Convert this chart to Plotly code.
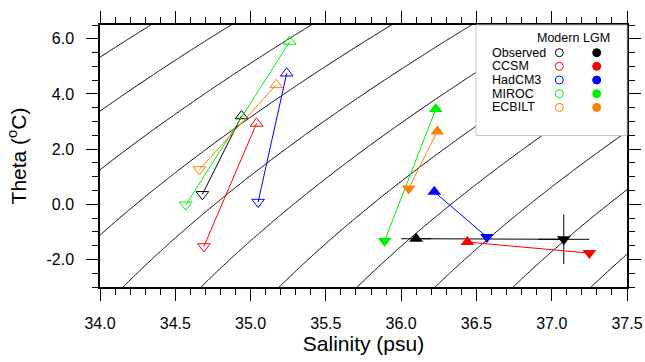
import numpy as np
import plotly.graph_objects as go

# ---------------- data ----------------
models = ["Observed", "CCSM", "HadCM3", "MIROC", "ECBILT"]
colors = ["#000000", "#ff0000", "#0000ff", "#00f000", "#ff8000"]

# Modern: [up-triangle site, down-triangle site]
modern_S = [[34.94, 34.68], [35.04, 34.69], [35.24, 35.05], [35.26, 34.57], [35.17, 34.66]]
modern_T = [[3.20, 0.36], [2.93, -1.53], [4.75, 0.08], [5.90, -0.02], [4.33, 1.26]]
# LGM
lgm_S = [[36.10, 37.08], [36.44, 37.25], [36.22, 36.57], [36.23, 35.89], [36.24, 36.05]]
lgm_T = [[-1.25, -1.27], [-1.37, -1.77], [0.45, -1.19], [3.45, -1.33], [2.64, 0.57]]
# observed LGM error bars
obs_err_S = [0.10, 0.17]
obs_err_T = [0.0, 0.9]

xticks = [34.0, 34.5, 35.0, 35.5, 36.0, 36.5, 37.0, 37.5]
yticks = [-2.0, 0.0, 2.0, 4.0, 6.0]

# density contour levels (potential density referenced to 4500 dbar, kg/m3 - 1000)
ref_pressure_bar = 450.0
contour_start, contour_end, contour_step = 44.305, 53.0, 0.404

# ---------------- density (UNESCO 1980 equation of state) ----------------
def dens0(S, T):
    rw = (999.842594 + 6.793952e-2*T - 9.095290e-3*T**2 + 1.001685e-4*T**3
          - 1.120083e-6*T**4 + 6.536332e-9*T**5)
    A = 8.24493e-1 - 4.0899e-3*T + 7.6438e-5*T**2 - 8.2467e-7*T**3 + 5.3875e-9*T**4
    B = -5.72466e-3 + 1.0227e-4*T - 1.6546e-6*T**2
    return rw + A*S + B*S**1.5 + 4.8314e-4*S**2

def seck(S, T, p):
    Kw = 19652.21 + 148.4206*T - 2.327105*T**2 + 1.360477e-2*T**3 - 5.155288e-5*T**4
    Aw = 3.239908 + 1.43713e-3*T + 1.16092e-4*T**2 - 5.77905e-7*T**3
    Bw = 8.50935e-5 - 6.12293e-6*T + 5.2787e-8*T**2
    K0 = (Kw + S*(54.6746 - 0.603459*T + 1.09987e-2*T**2 - 6.1670e-5*T**3)
          + S**1.5*(7.944e-2 + 1.6483e-2*T - 5.3009e-4*T**2))
    A = Aw + S*(2.2838e-3 - 1.0981e-5*T - 1.6078e-6*T**2) + 1.91075e-4*S**1.5
    B = Bw + S*(-9.9348e-7 + 2.0816e-8*T + 9.1697e-10*T**2)
    return K0 + A*p + B*p**2

def sigp(S, T, p):
    return dens0(S, T)/(1 - p/seck(S, T, p)) - 1000.0

Sg = np.linspace(33.9, 37.6, 186)
Tg = np.linspace(-3.3, 6.8, 203)
SS, TT = np.meshgrid(Sg, Tg)
Z = sigp(SS, TT, ref_pressure_bar)

fig = go.Figure()
fig.add_trace(go.Contour(x=Sg, y=Tg, z=Z, autocontour=False,
                         contours=dict(coloring="lines", start=contour_start, end=contour_end,
                                       size=contour_step),
                         colorscale=[[0, "black"], [1, "black"]], showscale=False,
                         line=dict(width=1), hoverinfo="skip"))

for i, m in enumerate(models):
    fig.add_trace(go.Scatter(x=modern_S[i], y=modern_T[i], mode="lines+markers",
                             line=dict(color=colors[i], width=1),
                             marker=dict(symbol=["triangle-up-open", "triangle-down-open"], size=11,
                                         color=colors[i], line=dict(width=1, color=colors[i])),
                             showlegend=False))
for i, m in enumerate(models):
    kw = {}
    if m == "Observed":
        kw = dict(error_x=dict(type="data", array=obs_err_S, color="black", thickness=1, width=0),
                  error_y=dict(type="data", array=obs_err_T, color="black", thickness=1, width=0))
    fig.add_trace(go.Scatter(x=lgm_S[i], y=lgm_T[i], mode="lines+markers",
                             line=dict(color=colors[i], width=1),
                             marker=dict(symbol=["triangle-up", "triangle-down"], size=12,
                                         color=colors[i]),
                             showlegend=False, **kw))

# ---------------- legend (pixel geometry) ----------------
L, R, Tm, B = 100, 18, 25, 75
W, H = 645, 362
pw, ph = W - L - R, H - Tm - B
def px(x): return (x - L)/pw
def py(y): return (H - B - y)/ph

shapes = [dict(type="rect", xref="paper", yref="paper", x0=px(476), x1=1, y0=py(135.5), y1=1,
               fillcolor="white", line=dict(color="#c8c8c8", width=1), layer="above")]
annotations = []
rows = [52.7, 66.3, 80.0, 93.7, 107.4]
fnt = dict(family="Liberation Sans, Arial, sans-serif", size=12.5, color="black")
for i, m in enumerate(models):
    annotations.append(dict(x=px(490), y=py(rows[i]), xref="paper", yref="paper", text=m,
                            showarrow=False, xanchor="left", yanchor="middle", font=fnt))
    for cx, filled in [(559.3, False), (596.7, True)]:
        shapes.append(dict(type="circle", xref="paper", yref="paper", xsizemode="pixel",
                           ysizemode="pixel", xanchor=px(cx), yanchor=py(rows[i]),
                           x0=-4, x1=4, y0=-4, y1=4, layer="above",
                           fillcolor=colors[i] if filled else "rgba(0,0,0,0)",
                           line=dict(color=colors[i], width=1)))
annotations.append(dict(x=px(558), y=py(38.3), xref="paper", yref="paper", text="Modern",
                        showarrow=False, xanchor="center", yanchor="middle", font=fnt))
annotations.append(dict(x=px(596), y=py(38.3), xref="paper", yref="paper", text="LGM",
                        showarrow=False, xanchor="center", yanchor="middle", font=fnt))

axfont = dict(family="Liberation Sans, Arial, sans-serif", size=16, color="black")
titlefont = dict(family="Liberation Sans, Arial, sans-serif", size=21, color="black")
common = dict(showgrid=False, zeroline=False, showline=True, linecolor="black", linewidth=1.5,
              mirror="allticks", ticks="outside", ticklen=12, tickwidth=1, tickcolor="black",
              tickfont=axfont, automargin=False, ticklabelstandoff=9)
fig.update_layout(
    width=W, height=H, margin=dict(l=L, r=R, t=Tm, b=B),
    plot_bgcolor="white", paper_bgcolor="white",
    shapes=shapes, annotations=annotations, showlegend=False,
    xaxis=dict(range=[34.0, 37.5], tickvals=xticks, ticktext=[f"{v:.1f}" for v in xticks],
               minor=dict(dtick=0.1, tick0=34.0, ticks="outside", ticklen=6, tickcolor="black"),
               title=dict(text="Salinity (psu)", font=titlefont, standoff=5),
               **common),
    yaxis=dict(range=[-3.0, 6.5], tickvals=yticks, ticktext=[f"{v:.1f}" for v in yticks],
               minor=dict(dtick=0.5, tick0=0, ticks="outside", ticklen=6, tickcolor="black"),
               title=dict(text="Theta (<sup>o</sup>C)", font=titlefont, standoff=14),
               **common),
)
fig.write_html("out.html", config={"displayModeBar": False},
               post_script="document.body.style.margin='0';")
